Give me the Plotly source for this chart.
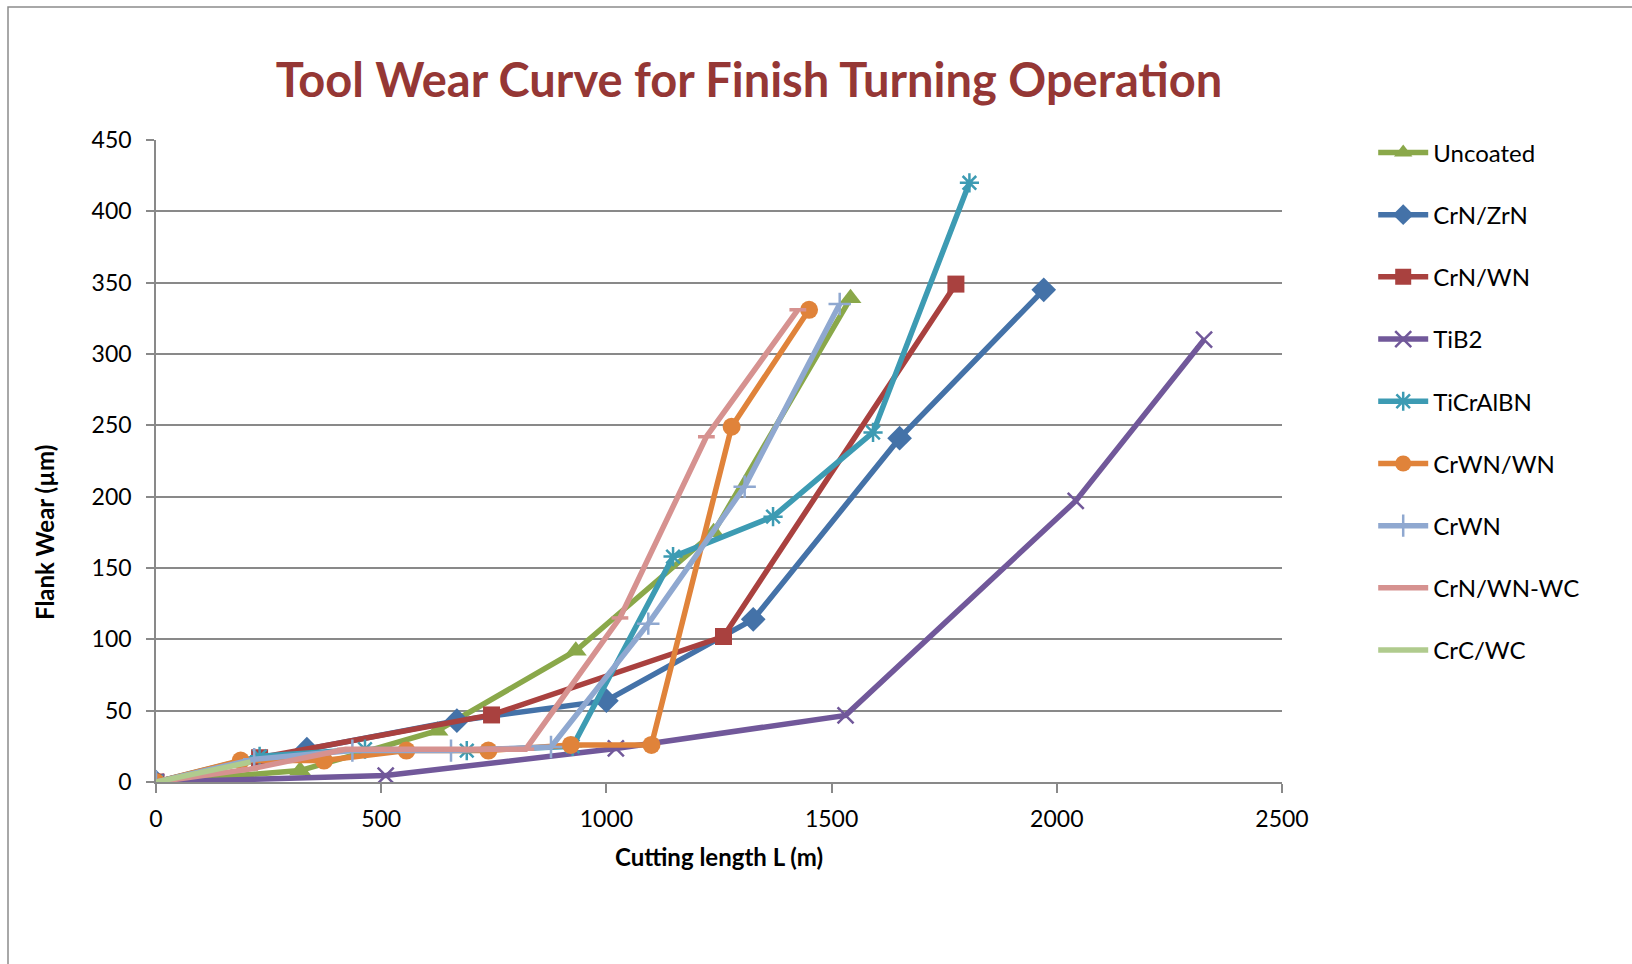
import plotly.graph_objects as go

# Cutting length (m) and flank wear (µm) for each tool coating
series_names = ["Uncoated", "CrN/ZrN", "CrN/WN", "TiB2", "TiCrAlBN",
                "CrWN/WN", "CrWN", "CrN/WN-WC", "CrC/WC"]

uncoated_x = [0, 320, 625, 932, 1238, 1542]
uncoated_y = [0, 8, 36, 92, 175, 339]

crn_zrn_x = [0, 335, 668, 1000, 1326, 1651, 1971]
crn_zrn_y = [0, 23, 43, 57, 114, 241, 345]

crn_wn_x = [0, 230, 745, 1260, 1776]
crn_wn_y = [0, 17, 47, 102, 349]

tib2_x = [0, 510, 1021, 1531, 2042, 2327]
tib2_y = [0, 4.5, 23.5, 46.7, 197, 310]

ticralbn_x = [0, 230, 464, 690, 925, 1148, 1370, 1592, 1806]
ticralbn_y = [0, 18, 23, 22, 25, 158, 186, 245, 420]

crwn_wn_x = [0, 188, 373, 556, 738, 921, 1100, 1278, 1450]
crwn_wn_y = [0, 15, 15, 22, 22, 26, 26, 249, 331]

crwn_x = [0, 218, 436, 655, 877, 1093, 1307, 1518]
crwn_y = [0, 16, 22, 22, 24.5, 111, 207, 335]

crn_wn_wc_x = [0, 208, 421, 620, 821, 1030, 1222, 1425]
crn_wn_wc_y = [0, 9, 23, 23, 23, 115, 242, 331]

crc_wc_x = [0, 210]
crc_wc_y = [0, 14]

xs = [uncoated_x, crn_zrn_x, crn_wn_x, tib2_x, ticralbn_x,
      crwn_wn_x, crwn_x, crn_wn_wc_x, crc_wc_x]
ys = [uncoated_y, crn_zrn_y, crn_wn_y, tib2_y, ticralbn_y,
      crwn_wn_y, crwn_y, crn_wn_wc_y, crc_wc_y]

x_ticks = [0, 500, 1000, 1500, 2000, 2500]
y_ticks = [0, 50, 100, 150, 200, 250, 300, 350, 400, 450]

# line colour, marker symbol, marker size, marker outline width
styles = [
    ("#8AA84A", "triangle-up", 19, 0),
    ("#4472A8", "diamond", 19, 0),
    ("#A9413F", "square", 17, 0),
    ("#71589A", "x-thin", 16, 2.5),
    ("#3D9BB3", "asterisk", 16, 2.5),
    ("#E0833A", "circle", 18, 0),
    ("#8FA8D0", "cross-thin", 16, 2.5),
    ("#D69290", "line-ew", 12, 3.5),
    ("#B0CB8E", "line-ew", 2, 0),
]

fig = go.Figure()
for i, (name, x, y) in enumerate(zip(series_names, xs, ys)):
    color, symbol, size, lw = styles[i]
    fig.add_trace(go.Scatter(
        x=x, y=y, name=name, mode="lines+markers",
        legendgroup=name,
        line=dict(color=color, width=5.5),
        marker=dict(symbol=symbol, size=size, color=color,
                    line=dict(color=color, width=lw)),
    ))

grid = "#898989"
fig.update_layout(
    width=1632, height=964,
    paper_bgcolor="white", plot_bgcolor="white",
    margin=dict(l=156, r=350, t=140, b=182),
    title=dict(text="<b>Tool Wear Curve for Finish Turning Operation</b>",
               x=749 / 1632, xanchor="center", y=1 - 81 / 964, yanchor="middle",
               font=dict(family="Lato", size=47, color="#953735")),
    font=dict(family="Lato", color="black"),
    showlegend=True,
    legend=dict(x=1.081, xanchor="left", y=1.015, yanchor="top",
                font=dict(size=24, color="black"),
                tracegroupgap=28, itemwidth=50, maxheight=900,
                bgcolor="rgba(0,0,0,0)"),
    xaxis=dict(range=[0, 2500], tickvals=x_ticks, ticks="outside", ticklen=9,
               tickcolor=grid, tickwidth=1.5, showgrid=False, zeroline=False,
               showline=True, linecolor=grid, linewidth=2,
               tickfont=dict(size=23), ticklabelstandoff=6,
               title=dict(text="<b>Cutting length L (m)</b>", standoff=19,
                          font=dict(size=24))),
    yaxis=dict(range=[0, 450], tickvals=y_ticks, ticks="outside", ticklen=8,
               tickcolor=grid, tickwidth=2, showgrid=True, gridcolor=grid,
               gridwidth=2, zeroline=False, showline=True, linecolor=grid,
               linewidth=1.5, tickfont=dict(size=23), ticklabelstandoff=10),
)

# vertical axis title, placed a little below the axis centre
fig.add_annotation(text="<b>Flank Wear (µm)</b>", textangle=-90,
                   xref="paper", yref="paper",
                   x=(44 - 156) / 1126, y=(782 - 533) / 642,
                   xanchor="center", yanchor="middle", showarrow=False,
                   font=dict(size=24, color="black"))

# chart frame
fig.add_shape(type="rect", xref="paper", yref="paper",
              x0=(8 - 156) / 1126, x1=(1700 - 156) / 1126,
              y0=(782 - 1000) / 642, y1=(782 - 7) / 642,
              line=dict(color="#8C8C8C", width=1.5), layer="below")

fig.write_html("out.html")
